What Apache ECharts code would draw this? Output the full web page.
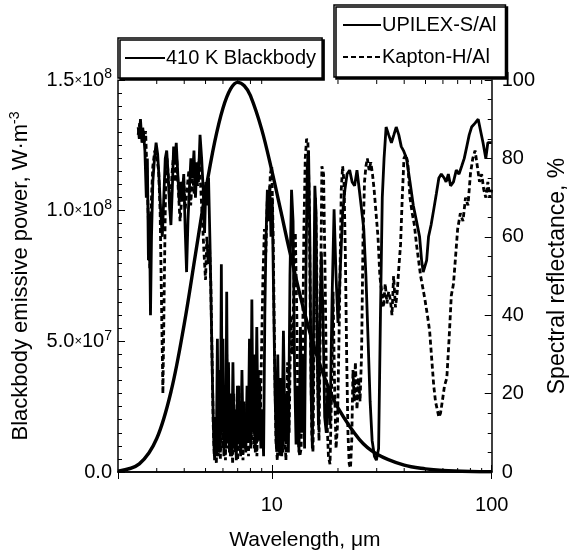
<!DOCTYPE html>
<html>
<head>
<meta charset="utf-8">
<script src="https://cdn.jsdelivr.net/npm/echarts@6/dist/echarts.min.js"></script>
<style>
html,body{margin:0;padding:0;background:#fff;}
#chart{width:577px;height:556px;}
</style>
</head>
<body>
<div id="chart"></div>
<script>
// ---- Data ----
const bbWavelength = [2,2.5,3,3.5,4,4.5,5,5.5,6,6.5,7,7.5,8,9,10,11,12,14,16,18,20,25,30,40,50,60,80,100];
const bbPower = [0.003e8,0.031e8,0.128e8,0.315e8,0.566e8,0.833e8,1.073e8,1.262e8,1.392e8,1.466e8,1.491e8,1.478e8,1.440e8,1.311e8,1.154e8,0.998e8,0.853e8,0.618e8,0.448e8,0.329e8,0.245e8,0.125e8,0.069e8,0.026e8,0.012e8,0.006e8,0.002e8,0.001e8];

const upilexWavelength = [2.47,2.50,2.53,2.57,2.61,2.65,2.69,2.72,2.75,2.78,2.81,2.84,2.88,2.93,2.98,3.03,3.08,3.13,3.18,3.23,3.28,3.33,3.38,3.43,3.48,3.53,3.58,3.63,3.68,3.74,3.80,3.86,3.92,3.98,4.04,4.10,4.16,4.22,4.29,4.36,4.43,4.50,4.57,4.64,4.72,4.80,4.88,4.95,5.02,5.09,5.16,5.24,5.31,5.38,5.45,5.50,5.55,5.60,5.66,5.72,5.78,5.84,5.90,5.95,6.00,6.06,6.12,6.18,6.24,6.30,6.36,6.42,6.50,6.58,6.66,6.74,6.82,6.90,6.98,7.06,7.14,7.22,7.32,7.42,7.52,7.62,7.72,7.82,7.92,8.02,8.12,8.22,8.32,8.42,8.55,8.67,8.80,8.92,9.05,9.18,9.30,9.42,9.55,9.68,9.80,9.92,10.05,10.2,10.35,10.5,10.65,10.8,10.95,11.1,11.3,11.5,11.7,11.9,12.1,12.3,12.5,12.7,12.9,13.1,13.3,13.5,13.7,13.9,14.1,14.3,14.5,14.7,14.9,15.1,15.3,15.5,15.7,15.9,16.1,16.3,16.5,16.8,17.1,17.4,17.7,18.0,18.4,18.8,19.2,19.6,20.0,20.5,21.0,21.5,22.0,22.6,23.2,23.8,24.4,25.0,25.6,26.2,26.8,27.4,28.0,28.6,29.3,29.9,30.6,31.2,31.8,32.4,33.1,34.0,35.0,35.9,36.8,37.8,38.8,39.7,41.0,42.5,44.0,45.5,47.0,48.0,48.8,49.7,50.6,51.6,53.0,54.5,56.0,57.5,59.0,60.8,62.0,63.5,65.0,67.0,69.0,71.0,73.0,75.0,77.0,79.0,81.0,84.0,86.8,89.0,91.3,94.0,96.0,100];
const upilexReflectance = [88,85,90,84,87,82,70,80,54,66,40,60,74,80,84,81,74,66,60,70,80,82,76,68,63,72,83,79,84,76,69,74,70,76,62,51,64,72,80,75,82,70,79,74,86,80,72,61,74,68,75,58,40,22,8,3,14,4,34,6,26,5,53,10,34,4,22,6,46,8,28,5,20,4,28,6,16,3,22,7,18,4,26,6,14,5,22,8,34,6,44,10,30,5,37,8,24,6,16,4,40,60,72,66,73,60,70,44,20,6,30,5,24,4,36,8,20,5,50,72,64,26,7,22,5,37,10,30,6,50,78,82,60,20,6,40,73,66,30,12,34,56,40,14,10,22,12,44,67,50,38,52,66,72,76,77,74,73,77,72,67,62,50,34,18,8,4,3,6,40,70,80,88,86,84,86,88,86,83,82,80,74,68,64,60,54,51,51,54,60,63,67,71,75,76,75,74,76,73,74,77,76,78,80,83,86,88,89,90,87,84,80,84,84];

const kaptonWavelength = [2.47,2.51,2.55,2.59,2.63,2.67,2.71,2.75,2.79,2.83,2.88,2.94,3.00,3.06,3.11,3.16,3.20,3.24,3.29,3.34,3.40,3.46,3.52,3.58,3.64,3.70,3.76,3.83,3.90,3.97,4.04,4.12,4.20,4.28,4.36,4.44,4.52,4.60,4.68,4.76,4.84,4.92,5.00,5.07,5.14,5.21,5.28,5.35,5.42,5.48,5.54,5.60,5.66,5.72,5.78,5.84,5.92,6.00,6.08,6.16,6.24,6.32,6.40,6.48,6.56,6.64,6.72,6.80,6.90,7.00,7.10,7.20,7.30,7.40,7.50,7.60,7.72,7.84,7.96,8.08,8.20,8.32,8.44,8.56,8.70,8.84,8.98,9.12,9.26,9.40,9.55,9.70,9.85,10.0,10.15,10.3,10.45,10.6,10.75,10.9,11.05,11.2,11.4,11.6,11.8,12.0,12.2,12.4,12.6,12.8,13.0,13.2,13.4,13.6,13.8,14.0,14.2,14.4,14.6,14.8,15.0,15.2,15.4,15.6,15.8,16.0,16.2,16.4,16.6,16.9,17.2,17.5,17.8,18.1,18.4,18.7,19.0,19.3,19.6,19.9,20.3,20.7,21.0,21.3,21.6,21.9,22.2,22.5,22.8,23.1,23.4,23.7,24.0,24.4,24.8,25.2,25.6,26.0,26.4,26.8,27.2,27.7,28.2,28.7,29.2,29.8,30.4,31.0,31.6,32.2,32.8,33.4,34.0,34.6,35.2,35.8,36.5,37.2,37.8,38.5,39.2,39.9,40.7,41.5,42.5,43.5,44.5,45.5,46.5,47.5,48.6,49.7,51.0,52.2,53.5,54.5,55.5,56.5,57.5,58.5,59.6,61.0,62.5,64.0,65.5,67.0,68.5,70.0,72.0,74.0,76.0,78.0,80.0,82.0,84.0,86.0,88.0,90.0,92.0,94.0,96.0,98.0,100];
const kaptonReflectance = [86,89,85,88,84,87,76,64,52,68,78,82,80,77,66,40,20,44,72,80,74,66,76,81,74,80,72,64,70,75,67,72,77,68,76,71,78,73,80,72,64,56,49,60,53,58,49,30,12,4,10,2,18,4,12,3,24,6,14,3,30,6,18,4,12,2,20,5,14,3,22,5,12,3,18,6,16,4,24,7,30,6,18,4,26,8,30,50,62,56,70,64,76,78,60,30,8,3,16,4,20,5,12,3,28,10,40,30,48,61,40,8,4,6,30,62,80,85,84,70,36,10,5,38,70,54,22,8,34,78,76,48,14,4,2,20,46,22,6,12,40,72,78,74,56,30,10,2,1,8,26,18,28,16,24,18,30,60,74,78,80,77,79,76,72,66,60,50,46,42,48,43,46,44,40,50,42,46,52,58,70,80,81,79,70,66,63,58,54,50,47,44,40,36,28,22,18,16,14,15,18,22,24,34,45,48,55,62,66,64,70,68,76,80,82,78,74,76,72,70,74,70,72];

// axis tick positions
const xMin = 2, xMax = 100;
const xMinorTicks = [3,4,5,6,7,8,9,20,30,40,50,60,70,80,90];
const leftMin = 0, leftMax = 1.5e8, leftInterval = 5e7;
const rightMin = 0, rightMax = 100, rightInterval = 20;

const zip = (a, b) => a.map((v, i) => [v, b[i]]);
const FONT = 'Liberation Sans, Arial, Helvetica, sans-serif';
const BLACK = '#000';

const chart = echarts.init(document.getElementById('chart'), null, {renderer: 'canvas'});

function leftLabel(v) {
  if (v === 0) return '0.0';
  const e = Math.floor(Math.log10(v) + 1e-9);
  const m = (v / Math.pow(10, e)).toFixed(1);
  return '{n|' + m + '}{x|×}{n|10}{s|' + e + '}';
}

const legendCommon = {
  borderColor: BLACK, borderWidth: 1.5,
  backgroundColor: '#fff',
  shadowColor: 'rgba(0,0,0,1)', shadowBlur: 0, shadowOffsetX: 2, shadowOffsetY: 2,
  itemStyle: {opacity: 0},
  textStyle: {fontSize: 20, color: BLACK, fontFamily: FONT, padding: [0, 0, 0, -4]}
};

const option = {
  backgroundColor: '#fff',
  animation: false,
  textStyle: {fontFamily: FONT, color: BLACK},
  grid: {left: 118, right: 73, top: 80, bottom: 78, containLabel: false},
  legend: [
    Object.assign({}, legendCommon, {
      data: ['410 K Blackbody'],
      left: 118, top: 38,
      padding: [10, 6, 10, 6],
      itemWidth: 40, itemHeight: 14, itemGap: 4
    }),
    Object.assign({}, legendCommon, {
      data: ['UPILEX-S/Al', 'Kapton-H/Al'],
      orient: 'vertical',
      left: 334, top: 5,
      padding: [10, 9, 10, 8],
      itemWidth: 38, itemHeight: 14, itemGap: 12
    })
  ],
  xAxis: [
    {
      type: 'log', logBase: 10, min: xMin, max: xMax, position: 'bottom',
      name: 'Wavelength, μm', nameLocation: 'middle', nameGap: 58,
      nameTextStyle: {fontSize: 21, color: BLACK, fontFamily: FONT},
      axisLine: {lineStyle: {color: BLACK, width: 1.5}},
      axisTick: {inside: true, length: 7, lineStyle: {color: BLACK, width: 1}},
      axisLabel: {fontSize: 20, color: BLACK, fontFamily: FONT, margin: 23, showMinLabel: false},
      splitLine: {show: false}
    },
    {
      type: 'log', logBase: 10, min: xMin, max: xMax, position: 'top',
      axisLine: {lineStyle: {color: BLACK, width: 1.5}},
      axisTick: {inside: true, length: 7, lineStyle: {color: BLACK, width: 1}},
      axisLabel: {show: false},
      splitLine: {show: false}
    }
  ],
  yAxis: [
    {
      type: 'value', min: leftMin, max: leftMax, interval: leftInterval, position: 'left',
      name: 'Blackbody emissive power, W·m{s|-3}', nameLocation: 'middle', nameGap: 84, nameRotate: 90,
      nameTextStyle: {fontSize: 22, color: BLACK, fontFamily: FONT,
        rich: {s: {fontSize: 14, verticalAlign: 'top', lineHeight: 26, fontFamily: FONT, color: BLACK}}},
      axisLine: {show: true, lineStyle: {color: BLACK, width: 1.5}},
      axisTick: {show: true, inside: true, length: 7, lineStyle: {color: BLACK, width: 1}},
      minorTick: {show: true, splitNumber: 10, length: 4, lineStyle: {color: BLACK, width: 1}},
      axisLabel: {
        margin: 6, color: BLACK, fontFamily: FONT, fontSize: 20,
        formatter: leftLabel,
        rich: {
          n: {fontSize: 20, lineHeight: 25, fontFamily: FONT, color: BLACK},
          x: {fontSize: 13, lineHeight: 25, fontFamily: FONT, color: BLACK},
          s: {fontSize: 14, lineHeight: 25, verticalAlign: 'top', fontFamily: FONT, color: BLACK}
        }
      },
      splitLine: {show: false}
    },
    {
      type: 'value', min: rightMin, max: rightMax, interval: rightInterval, position: 'right',
      name: 'Spectral reflectance, %', nameLocation: 'middle', nameGap: 48, nameRotate: 90,
      nameTextStyle: {fontSize: 23, color: BLACK, fontFamily: FONT},
      axisLine: {show: true, lineStyle: {color: BLACK, width: 1.5}},
      axisTick: {show: true, inside: true, length: 7, lineStyle: {color: BLACK, width: 1}},
      minorTick: {show: true, splitNumber: 4, length: 4, lineStyle: {color: BLACK, width: 1}},
      axisLabel: {margin: 10, color: BLACK, fontFamily: FONT, fontSize: 20},
      splitLine: {show: false}
    }
  ],
  series: [
    {
      name: 'UPILEX-S/Al', type: 'line', xAxisIndex: 0, yAxisIndex: 1,
      data: zip(upilexWavelength, upilexReflectance),
      symbol: 'none', showSymbol: false,
      lineStyle: {color: BLACK, width: 2.8, type: 'solid'},
      itemStyle: {color: BLACK}, z: 3
    },
    {
      name: 'Kapton-H/Al', type: 'line', xAxisIndex: 0, yAxisIndex: 1,
      data: zip(kaptonWavelength, kaptonReflectance),
      symbol: 'none', showSymbol: false,
      lineStyle: {color: BLACK, width: 2.8, type: [5, 3]},
      itemStyle: {color: BLACK}, z: 3
    },
    {
      name: '410 K Blackbody', type: 'line', xAxisIndex: 0, yAxisIndex: 0,
      data: zip(bbWavelength, bbPower),
      symbol: 'none', showSymbol: false, smooth: 0.35,
      lineStyle: {color: BLACK, width: 3.4},
      itemStyle: {color: BLACK}, z: 4
    },
    {
      name: 'minorTicksX', type: 'custom', xAxisIndex: 0, yAxisIndex: 1,
      data: xMinorTicks.map(v => [v, rightMin]),
      silent: true, clip: false, z: 5,
      renderItem: function (params, api) {
        const v = api.value(0);
        const pb = api.coord([v, rightMin]);
        const pt = api.coord([v, rightMax]);
        return {
          type: 'group',
          children: [
            {type: 'line', shape: {x1: pb[0], y1: pb[1], x2: pb[0], y2: pb[1] - 4}, style: {stroke: BLACK, lineWidth: 1}},
            {type: 'line', shape: {x1: pt[0], y1: pt[1], x2: pt[0], y2: pt[1] + 4}, style: {stroke: BLACK, lineWidth: 1}}
          ]
        };
      }
    }
  ]
};
chart.setOption(option);
</script>
</body>
</html>
